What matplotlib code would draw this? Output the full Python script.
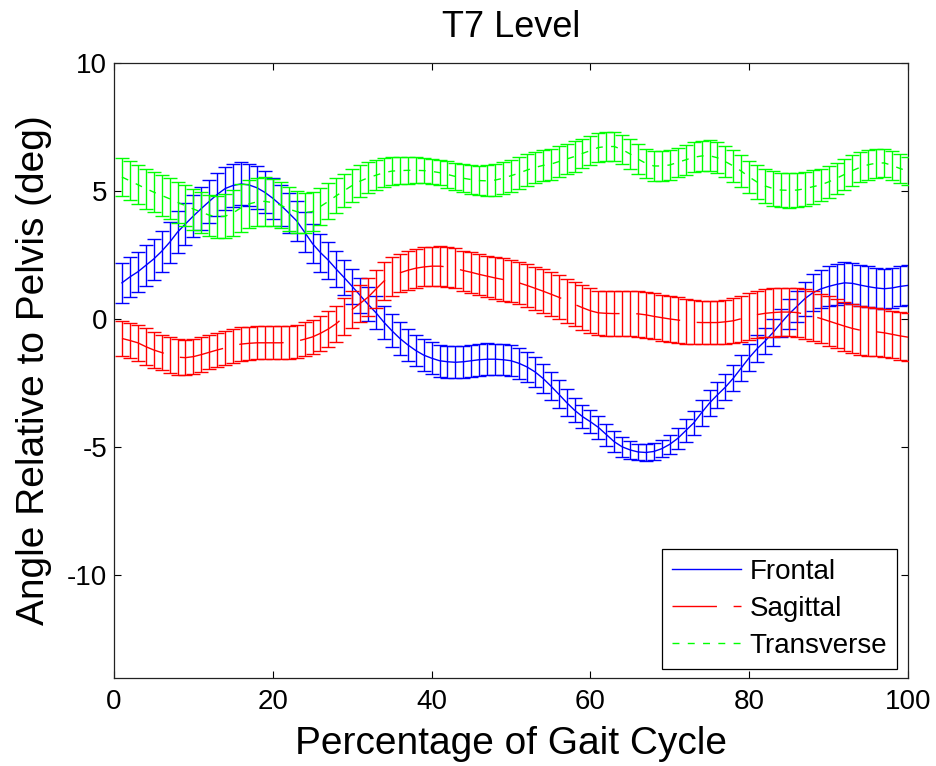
import numpy as np
import matplotlib
matplotlib.use("Agg")
import matplotlib.pyplot as plt

plt.rcParams['font.family'] = ['Liberation Sans', 'DejaVu Sans']
plt.rcParams['axes.unicode_minus'] = False

# gait cycle percentage (1..100)
pct = np.arange(1, 101)

frontal_mean = [
    1.42, 1.65, 1.85, 2.1, 2.35, 2.65, 3.0, 3.4, 3.72, 4.03,
    4.32, 4.6, 4.87, 5.1, 5.22, 5.28, 5.24, 5.13, 4.95, 4.72,
    4.45, 4.15, 3.84, 3.4, 2.95, 2.6, 2.3, 1.95, 1.62, 1.28,
    0.93, 0.58, 0.25, -0.12, -0.45, -0.75, -1.0, -1.22, -1.4, -1.52,
    -1.62, -1.66, -1.68, -1.66, -1.62, -1.58, -1.56, -1.56, -1.58, -1.62,
    -1.72, -1.86, -2.05, -2.3, -2.6, -2.92, -3.25, -3.55, -3.8, -4.0,
    -4.22, -4.5, -4.78, -4.98, -5.1, -5.18, -5.2, -5.16, -5.05, -4.88,
    -4.65, -4.35, -4.05, -3.65, -3.27, -2.95, -2.65, -2.3, -1.9, -1.5,
    -1.15, -0.85, -0.52, -0.15, 0.2, 0.5, 0.8, 1.03, 1.18, 1.28,
    1.36, 1.42, 1.4, 1.33, 1.27, 1.22, 1.19, 1.22, 1.28, 1.32]
frontal_sd = [
    0.78, 0.78, 0.79, 0.8, 0.8, 0.81, 0.81, 0.82, 0.82, 0.82,
    0.83, 0.83, 0.84, 0.84, 0.84, 0.84, 0.83, 0.83, 0.82, 0.81,
    0.8, 0.79, 0.78, 0.77, 0.76, 0.74, 0.72, 0.7, 0.69, 0.68,
    0.67, 0.66, 0.65, 0.64, 0.64, 0.63, 0.63, 0.62, 0.62, 0.62,
    0.62, 0.62, 0.62, 0.62, 0.62, 0.62, 0.62, 0.61, 0.61, 0.6,
    0.6, 0.59, 0.58, 0.57, 0.56, 0.55, 0.52, 0.48, 0.45, 0.44,
    0.44, 0.43, 0.42, 0.4, 0.36, 0.33, 0.32, 0.32, 0.33, 0.36,
    0.4, 0.45, 0.48, 0.5, 0.5, 0.51, 0.52, 0.52, 0.52, 0.52,
    0.52, 0.52, 0.53, 0.55, 0.58, 0.62, 0.67, 0.72, 0.76, 0.78,
    0.8, 0.8, 0.8, 0.8, 0.79, 0.79, 0.78, 0.78, 0.78, 0.78]

sagittal_mean = [
    -0.75, -0.83, -0.92, -1.07, -1.2, -1.3, -1.4, -1.48, -1.5, -1.46,
    -1.38, -1.29, -1.2, -1.12, -1.04, -0.97, -0.94, -0.92, -0.92, -0.92,
    -0.92, -0.9, -0.86, -0.78, -0.69, -0.55, -0.38, -0.17, 0.1, 0.38,
    0.62, 0.86, 1.18, 1.49, 1.66, 1.81, 1.91, 1.99, 2.04, 2.07,
    2.07, 2.04, 1.98, 1.9, 1.83, 1.75, 1.68, 1.61, 1.55, 1.49,
    1.42, 1.32, 1.21, 1.1, 0.98, 0.86, 0.72, 0.58, 0.45, 0.33,
    0.25, 0.23, 0.22, 0.22, 0.22, 0.21, 0.17, 0.11, 0.06, 0.01,
    -0.03, -0.08, -0.12, -0.13, -0.13, -0.13, -0.1, -0.06, 0.02, 0.1,
    0.18, 0.23, 0.26, 0.28, 0.28, 0.26, 0.2, 0.12, 0.03, -0.07,
    -0.17, -0.27, -0.36, -0.43, -0.47, -0.49, -0.53, -0.59, -0.65, -0.7]
sagittal_sd = [
    0.69, 0.7, 0.7, 0.71, 0.71, 0.7, 0.7, 0.69, 0.68, 0.68,
    0.67, 0.67, 0.66, 0.66, 0.66, 0.65, 0.65, 0.65, 0.65, 0.65,
    0.65, 0.65, 0.65, 0.66, 0.67, 0.68, 0.69, 0.7, 0.71, 0.72,
    0.73, 0.74, 0.75, 0.75, 0.75, 0.75, 0.76, 0.76, 0.76, 0.76,
    0.77, 0.77, 0.78, 0.78, 0.79, 0.8, 0.8, 0.81, 0.82, 0.83,
    0.83, 0.84, 0.84, 0.85, 0.85, 0.86, 0.86, 0.86, 0.87, 0.87,
    0.87, 0.88, 0.88, 0.89, 0.89, 0.9, 0.9, 0.9, 0.9, 0.9,
    0.89, 0.88, 0.86, 0.84, 0.83, 0.84, 0.86, 0.88, 0.9, 0.92,
    0.93, 0.94, 0.95, 0.95, 0.95, 0.96, 0.96, 0.97, 0.97, 0.97,
    0.97, 0.96, 0.96, 0.95, 0.95, 0.94, 0.94, 0.93, 0.93, 0.93]

transverse_mean = [
    5.55, 5.4, 5.25, 5.1, 4.96, 4.83, 4.7, 4.56, 4.43, 4.3,
    4.18, 4.06, 4.0, 4.02, 4.15, 4.35, 4.5, 4.58, 4.6, 4.55,
    4.45, 4.3, 4.2, 4.16, 4.2, 4.4, 4.6, 4.82, 5.02, 5.22,
    5.39, 5.52, 5.62, 5.72, 5.78, 5.8, 5.81, 5.81, 5.8, 5.77,
    5.72, 5.65, 5.57, 5.5, 5.45, 5.41, 5.4, 5.43, 5.5, 5.6,
    5.7, 5.82, 5.92, 6.0, 6.05, 6.15, 6.25, 6.35, 6.47, 6.58,
    6.7, 6.74, 6.74, 6.62, 6.45, 6.25, 6.08, 5.98, 5.98, 6.02,
    6.12, 6.22, 6.32, 6.37, 6.38, 6.3, 6.15, 5.98, 5.78, 5.55,
    5.35, 5.2, 5.1, 5.04, 5.03, 5.04, 5.09, 5.17, 5.24, 5.36,
    5.5, 5.65, 5.8, 5.93, 6.03, 6.09, 6.1, 6.0, 5.88, 5.78]
transverse_sd = [
    0.75, 0.76, 0.77, 0.78, 0.79, 0.8, 0.8, 0.8, 0.8, 0.8,
    0.8, 0.8, 0.82, 0.86, 0.9, 0.93, 0.95, 0.95, 0.95, 0.93,
    0.9, 0.86, 0.82, 0.78, 0.75, 0.72, 0.7, 0.68, 0.66, 0.65,
    0.63, 0.61, 0.59, 0.57, 0.55, 0.54, 0.52, 0.51, 0.5, 0.5,
    0.5, 0.51, 0.52, 0.54, 0.56, 0.58, 0.6, 0.61, 0.62, 0.62,
    0.62, 0.62, 0.61, 0.61, 0.6, 0.6, 0.59, 0.59, 0.58, 0.58,
    0.58, 0.58, 0.58, 0.58, 0.58, 0.58, 0.58, 0.58, 0.58, 0.58,
    0.58, 0.58, 0.58, 0.59, 0.6, 0.6, 0.61, 0.62, 0.63, 0.64,
    0.65, 0.66, 0.67, 0.68, 0.68, 0.68, 0.67, 0.66, 0.64, 0.62,
    0.61, 0.6, 0.59, 0.58, 0.58, 0.57, 0.56, 0.56, 0.55, 0.55]

labels = ['Frontal', 'Sagittal', 'Transverse']
colors = ['#0000ff', '#ff0000', '#00ff00']
styles = ['-', (0, (32, 12)), (0, (5, 6))]

fig = plt.figure(figsize=(9.36, 7.66), dpi=100)
ax = fig.add_axes([0.1218, 0.1149, 0.8483, 0.8029])

series = [(frontal_mean, frontal_sd), (sagittal_mean, sagittal_sd),
          (transverse_mean, transverse_sd)]
for i, (m, sd) in enumerate(series):
    ax.errorbar(pct, m, yerr=sd, fmt='none', ecolor=colors[i],
                elinewidth=1.0, capsize=5, capthick=1.0, zorder=2 + i)
    ax.plot(pct, m, color=colors[i], lw=1.0, linestyle=styles[i],
            label=labels[i], zorder=2 + i)

ax.set_xlim(0, 100)
ax.set_ylim(-14, 10)
ax.set_xticks([0, 20, 40, 60, 80, 100])
ax.set_yticks([-10, -5, 0, 5, 10])
ax.tick_params(direction='in', length=5, width=0.8, labelsize=20,
               top=True, right=True)
ax.tick_params(axis='y', pad=5)
ax.tick_params(axis='x', pad=8)
for s in ax.spines.values():
    s.set_linewidth(0.9)
    s.set_color('#222222')

ax.set_title('T7 Level', fontsize=26, pad=19)
ax.set_xlabel('Percentage of Gait Cycle', fontsize=28, labelpad=8)
ax.set_ylabel('Angle Relative to Pelvis (deg)', fontsize=28, labelpad=11)

leg = ax.legend(loc='lower right', bbox_to_anchor=(0.986, 0.015),
                borderaxespad=0, fontsize=20, handlelength=2.5,
                handletextpad=0.3, labelspacing=0.4, borderpad=0.35,
                fancybox=False, framealpha=1, edgecolor='black')
leg.get_frame().set_linewidth(0.9)

fig.savefig('out.png', dpi=100)
